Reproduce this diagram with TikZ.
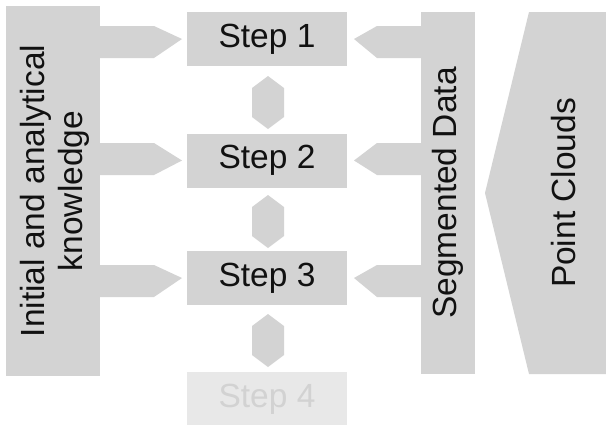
\documentclass[tikz,border=0pt]{standalone}
\usepackage{fontspec}
\setmainfont{Liberation Sans}
\definecolor{boxgray}{HTML}{D3D3D3}
\definecolor{fadegray}{HTML}{E8E8E8}
\definecolor{fadetext}{HTML}{D2D2D2}
\definecolor{txt}{HTML}{111111}
\begin{document}
\begin{tikzpicture}[x=1pt,y=-1pt,
  blk/.style={fill=boxgray, draw=none, inner sep=0pt},
  lbl/.style={font=\fontsize{33.5}{38.5}\selectfont, text=txt},
  stepbox/.style={blk, lbl, minimum width=160pt, minimum height=54pt},
  shape fill/.style={fill=boxgray, draw=none}]
\useasboundingbox (0,0) rectangle (606,424);
\fill[white] (0,0) rectangle (606,424);

% side panels
\node[blk, minimum width=94pt, minimum height=370pt] (know) at (53,191) {};
\node[lbl, rotate=90, align=center] (knowtxt) at (55,191) {Initial and analytical\\knowledge};

\node[blk, minimum width=54pt, minimum height=362pt] (seg) at (448,193) {};
\node[lbl, rotate=90] (segtxt) at (seg.center) {Segmented Data};

% point clouds
\fill[boxgray] (529,12) -- (610,12) -- (610,374) -- (529,374) -- (485,193) -- cycle;
\node[lbl, rotate=90] (pc) at (564,193) {Point Clouds};

% steps
\node[stepbox] (s1) at (267,39) {Step 1};
\node[stepbox] (s2) at (267,160.5) {Step 2};
\node[stepbox] (s3) at (267,278) {Step 3};
\node[stepbox, fill=fadegray, text=fadetext] (s4) at (267,399) {Step 4};

% arrows from knowledge panel
\foreach \c/\s in {42/s1,159/s2,281/s3}{
  \fill[boxgray] (know.east |- 0,\c-16) -- (154,\c-16) -- (\s.west -| 182,\c) -- (154,\c+16) -- (know.east |- 0,\c+16) -- cycle;
}
% arrows from segmented data
\foreach \c/\s in {42/s1,159/s2,281/s3}{
  \fill[boxgray] (seg.west |- 0,\c-16) -- (377,\c-16) -- (\s.east -| 354,\c) -- (377,\c+16) -- (seg.west |- 0,\c+16) -- cycle;
}
% hexagons between steps
\foreach \t in {76,195,314}{
  \fill[boxgray] (268,\t) -- (284,\t+12) -- (284,\t+41) -- (268,\t+53) -- (252,\t+41) -- (252,\t+12) -- cycle;
}
\end{tikzpicture}
\end{document}
